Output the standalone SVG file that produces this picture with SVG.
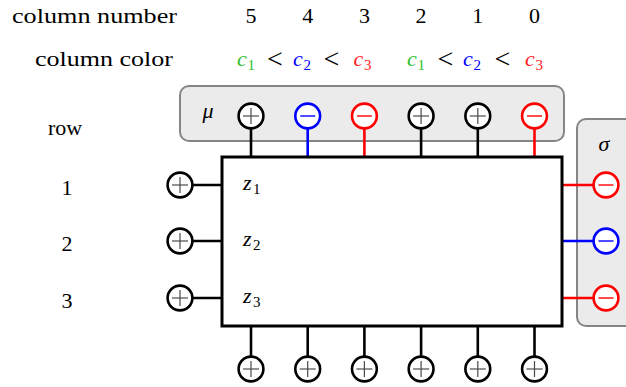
<svg xmlns="http://www.w3.org/2000/svg" xmlns:xlink="http://www.w3.org/1999/xlink" width="626" height="387" viewBox="0 0 626 387" font-family="'Liberation Serif', 'Times New Roman', Tinos, 'DejaVu Serif', 'Noto Serif', serif">
<style>
  .lbl { font-size: 22px; }
  .num { font-size: 22px; text-anchor: middle; }
  .it { font-size: 22px; font-style: italic; }
  .sub { font-size: 15px; }
  .lt { font-size: 28px; text-anchor: middle; }
  .panel { fill: #ebebeb; stroke: #858585; stroke-width: 2; }
  .main { fill: #fff; stroke: #000; stroke-width: 3; }
  .ring { fill: #fff; stroke-width: 2.6; }
  .k { stroke: #000; }
  .b { stroke: #0000ff; }
  .r { stroke: #ff0000; }
  .stem { stroke-width: 2.6; fill: none; }
  .pl { stroke: #4a4a4a; stroke-width: 1.2; }
  .mnb { stroke: #0000ff; stroke-width: 1.4; }
  .mnr { stroke: #ff0000; stroke-width: 1.4; }
  .g { fill: #2fbf2f; }
  .bl { fill: #0000ff; }
  .rd { fill: #ff2020; }
</style>
<defs>
  <g id="plus">
    <circle r="12.4" class="ring k"/>
    <line x1="-8" y1="0" x2="8" y2="0" class="pl"/>
    <line x1="0" y1="-8" x2="0" y2="8" class="pl"/>
  </g>
  <g id="minusB">
    <circle r="12.4" class="ring b"/>
    <line x1="-7.5" y1="0" x2="7.5" y2="0" class="mnb"/>
  </g>
  <g id="minusR">
    <circle r="12.4" class="ring r"/>
    <line x1="-7.5" y1="0" x2="7.5" y2="0" class="mnr"/>
  </g>
</defs>

<!-- headings -->
<text class="lbl" x="12" y="23" textLength="165" lengthAdjust="spacingAndGlyphs">column number</text>
<text class="lbl" x="35" y="66" textLength="138" lengthAdjust="spacingAndGlyphs">column color</text>
<text class="num" x="251" y="23">5</text>
<text class="num" x="307.7" y="23">4</text>
<text class="num" x="364.4" y="23">3</text>
<text class="num" x="421.1" y="23">2</text>
<text class="num" x="477.8" y="23">1</text>
<text class="num" x="534.5" y="23">0</text>

<!-- color order -->
<g id="colororder">
  <text class="it g" x="237" y="66">c</text><text class="sub g" x="247.5" y="70">1</text>
  <text class="lt" x="275" y="68">&lt;</text>
  <text class="it bl" x="293" y="66">c</text><text class="sub bl" x="303.5" y="70">2</text>
  <text class="lt" x="331.5" y="68">&lt;</text>
  <text class="it rd" x="353.5" y="66">c</text><text class="sub rd" x="364" y="70">3</text>
  <text class="it g" x="407" y="66">c</text><text class="sub g" x="417.5" y="70">1</text>
  <text class="lt" x="445.5" y="68">&lt;</text>
  <text class="it bl" x="463" y="66">c</text><text class="sub bl" x="473.5" y="70">2</text>
  <text class="lt" x="502.5" y="68">&lt;</text>
  <text class="it rd" x="525" y="66">c</text><text class="sub rd" x="535.5" y="70">3</text>
</g>

<!-- row labels -->
<text class="num" x="65" y="135">row</text>
<text class="num" x="67" y="195">1</text>
<text class="num" x="67" y="251">2</text>
<text class="num" x="67" y="308">3</text>

<!-- panels -->
<g id="mu-panel">
  <rect class="panel" x="180" y="86" width="384" height="55" rx="9"/>
  <text class="it" x="208" y="118" text-anchor="middle">μ</text>
</g>
<g id="sigma-panel">
  <rect class="panel" x="577" y="119" width="70" height="207" rx="9"/>
  <text class="it" x="604" y="151" text-anchor="middle">σ</text>
</g>

<!-- connectors -->
<g id="connectors" class="stem">
  <line class="k" x1="251" y1="116" x2="251" y2="157"/>
  <line class="b" x1="307.7" y1="116" x2="307.7" y2="157"/>
  <line class="r" x1="364.4" y1="116" x2="364.4" y2="157"/>
  <line class="k" x1="421.1" y1="116" x2="421.1" y2="157"/>
  <line class="k" x1="477.8" y1="116" x2="477.8" y2="157"/>
  <line class="r" x1="534.5" y1="116" x2="534.5" y2="157"/>
  <line class="k" x1="180" y1="185" x2="222" y2="185"/>
  <line class="k" x1="180" y1="241" x2="222" y2="241"/>
  <line class="k" x1="180" y1="298" x2="222" y2="298"/>
  <line class="r" x1="562" y1="185" x2="606" y2="185"/>
  <line class="b" x1="562" y1="241" x2="606" y2="241"/>
  <line class="r" x1="562" y1="298" x2="606" y2="298"/>
  <line class="k" x1="251" y1="326" x2="251" y2="369"/>
  <line class="k" x1="307.7" y1="326" x2="307.7" y2="369"/>
  <line class="k" x1="364.4" y1="326" x2="364.4" y2="369"/>
  <line class="k" x1="421.1" y1="326" x2="421.1" y2="369"/>
  <line class="k" x1="477.8" y1="326" x2="477.8" y2="369"/>
  <line class="k" x1="534.5" y1="326" x2="534.5" y2="369"/>
</g>

<!-- main box -->
<g id="matrix">
  <rect class="main" x="222" y="157" width="340" height="169"/>
  <text class="it" x="243" y="190">z</text><text class="sub" x="253" y="194">1</text>
  <text class="it" x="243" y="246">z</text><text class="sub" x="253" y="250">2</text>
  <text class="it" x="243" y="303">z</text><text class="sub" x="253" y="307">3</text>
</g>

<!-- top (mu) nodes -->
<g id="mu5"><use xlink:href="#plus" x="251" y="116"/></g>
<g id="mu4"><use xlink:href="#minusB" x="307.7" y="116"/></g>
<g id="mu3"><use xlink:href="#minusR" x="364.4" y="116"/></g>
<g id="mu2"><use xlink:href="#plus" x="421.1" y="116"/></g>
<g id="mu1"><use xlink:href="#plus" x="477.8" y="116"/></g>
<g id="mu0"><use xlink:href="#minusR" x="534.5" y="116"/></g>

<!-- left nodes -->
<g id="left1"><use xlink:href="#plus" x="180" y="185"/></g>
<g id="left2"><use xlink:href="#plus" x="180" y="241"/></g>
<g id="left3"><use xlink:href="#plus" x="180" y="298"/></g>

<!-- sigma nodes -->
<g id="sigma1"><use xlink:href="#minusR" x="606" y="185"/></g>
<g id="sigma2"><use xlink:href="#minusB" x="606" y="241"/></g>
<g id="sigma3"><use xlink:href="#minusR" x="606" y="298"/></g>

<!-- bottom nodes -->
<g id="bot5"><use xlink:href="#plus" x="251" y="369"/></g>
<g id="bot4"><use xlink:href="#plus" x="307.7" y="369"/></g>
<g id="bot3"><use xlink:href="#plus" x="364.4" y="369"/></g>
<g id="bot2"><use xlink:href="#plus" x="421.1" y="369"/></g>
<g id="bot1"><use xlink:href="#plus" x="477.8" y="369"/></g>
<g id="bot0"><use xlink:href="#plus" x="534.5" y="369"/></g>
</svg>
